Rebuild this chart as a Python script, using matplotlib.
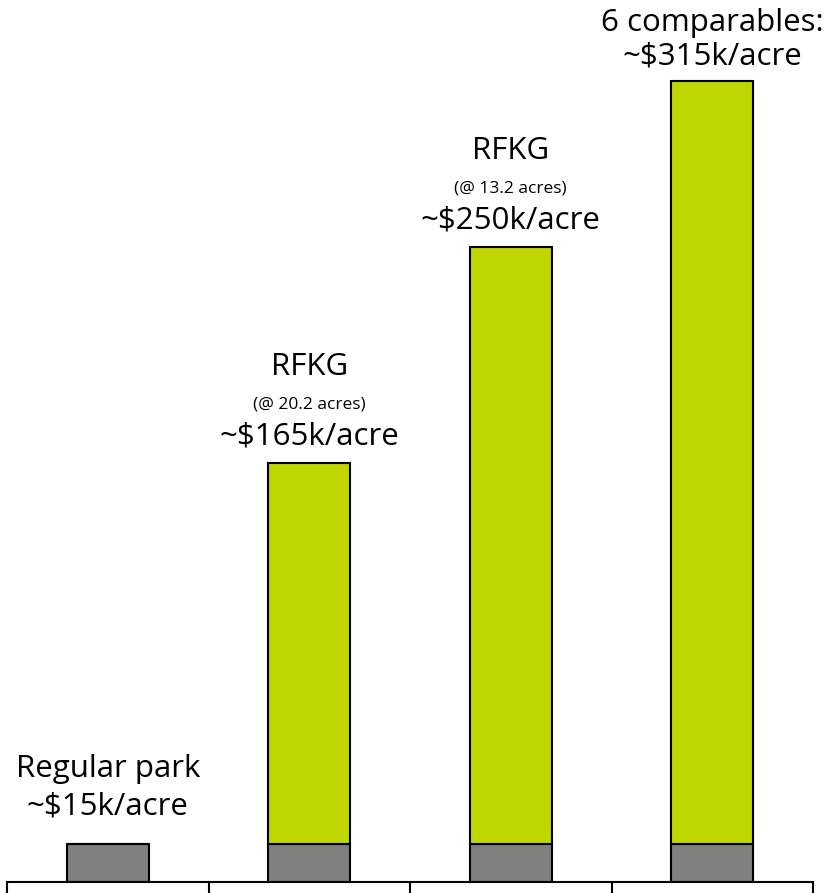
import numpy as np
import matplotlib.pyplot as plt

# values in $k per acre
categories = ["Regular park", "RFKG 20.2", "RFKG 13.2", "Comparables"]
base_value = [15, 15, 15, 15]
totals = [15, 165, 250, 315]
big_top = ["Regular park", "RFKG", "RFKG", "6 comparables:"]
small_mid = ["", "(@ 20.2 acres)", "(@ 13.2 acres)", ""]
price_labels = ["~$15k/acre", "~$165k/acre", "~$250k/acre", "~$315k/acre"]

green_part = [t - b for t, b in zip(totals, base_value)]

plt.rcParams['font.family'] = ['Open Sans', 'DejaVu Sans']

fig = plt.figure(figsize=(8.25, 8.93), dpi=100)
ax = fig.add_axes([7 / 825, 11 / 893, 806 / 825, 882 / 893])

x = np.arange(len(categories))
ax.bar(x, base_value, width=0.405, color='#808080', edgecolor='black', linewidth=1.5, zorder=2)
ax.bar(x, green_part, width=0.405, bottom=base_value, color='#BFD600',
       edgecolor='black', linewidth=1.5, zorder=2)

ax.set_xlim(-0.5, len(categories) - 0.5)
ax.set_ylim(0, 347)

# labels above the bars (offsets in points)
for i in range(len(categories)):
    if small_mid[i]:
        offs = (19, 41.5, 69)
    elif i == 0:
        offs = (27, None, 54)
    else:
        offs = (18, None, 42)
    ax.annotate(price_labels[i], (x[i], totals[i]), xytext=(0, offs[0]),
                textcoords='offset points', ha='center', va='center', fontsize=22.5)
    if offs[1] is not None:
        ax.annotate(small_mid[i], (x[i], totals[i]), xytext=(0, offs[1]),
                    textcoords='offset points', ha='center', va='center', fontsize=12.5)
    ax.annotate(big_top[i], (x[i], totals[i]), xytext=(0, offs[2]),
                textcoords='offset points', ha='center', va='center', fontsize=22.5)

for s in ['top', 'left', 'right']:
    ax.spines[s].set_visible(False)
ax.spines['bottom'].set_linewidth(1.5)
ax.set_yticks([])
ax.set_xticks(np.arange(len(categories) + 1) - 0.5)
ax.set_xticklabels([])
ax.tick_params(axis='x', direction='out', length=9, width=1.5)

fig.savefig('out.png', dpi=100)
